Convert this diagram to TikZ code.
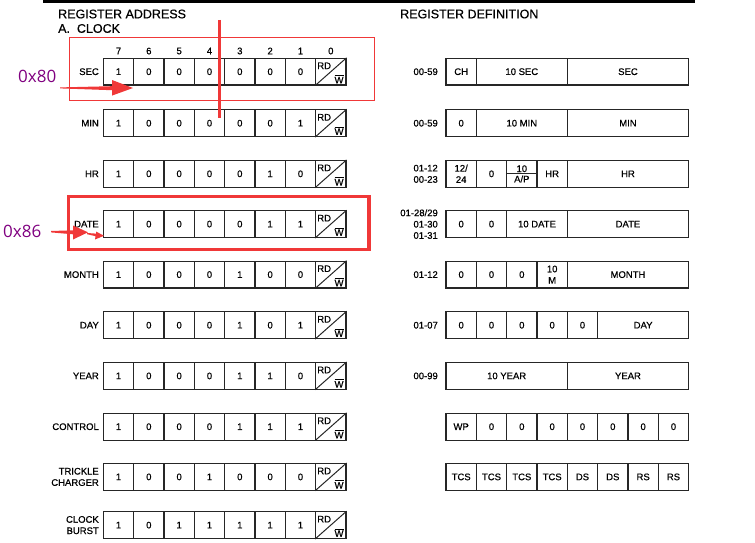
\documentclass[tikz,border=0pt]{standalone}
\usepackage{fontspec}
\setmainfont{Liberation Sans}[FakeBold=0.6]
\newfontfamily\hexfont{Open Sans}
\definecolor{annred}{RGB}{240,56,56}
\definecolor{hexpurple}{RGB}{128,0,128}

\begin{document}
\begin{tikzpicture}
  [x=1pt,y=-1pt,
   bitcell/.style={draw=black!85, line width=1.1pt, minimum width=30.33pt,
     minimum height=26.7pt, inner sep=0pt, align=center,
     font=\fontsize{9.5}{11.3}\selectfont},
   rowlabel/.style={anchor=east, align=right, inner sep=0pt,
     font=\fontsize{9.5}{11.3}\selectfont},
   bithead/.style={inner sep=0pt, font=\fontsize{9.5}{11}\selectfont},
   rdw/.style={inner sep=2pt, font=\fontsize{9.5}{10}\selectfont},
   title/.style={anchor=west, inner sep=0pt, font=\fontsize{12.5}{14}\selectfont},
   hexlabel/.style={anchor=west, inner sep=0pt, text=hexpurple,
     font=\hexfont\fontsize{17}{20}\selectfont},
   annbox/.style={draw=annred},
   pointer/.style={fill=annred}]

  \useasboundingbox (0,0) rectangle (755,543);
  \fill (43,0) rectangle (695,2.7);

  \node[title] (addr) at (58,14) {REGISTER ADDRESS};
  \node[title] (clock) at (58,28.5) {A.\ \ CLOCK};
  \node[title] (defn) at (400,14) {REGISTER DEFINITION};

  % bit numbers
  \foreach \c [evaluate=\c as \bitno using int(7-\c)] in {0,...,7}
    \node[bithead] (h\c) at ({118.5+30.33*\c},51) {\bitno};

  % register addresses
  \foreach \ty/\lab/\bits [count=\r from 0] in {
      71.7/SEC/{1,0,0,0,0,0,0},
      123.2/MIN/{1,0,0,0,0,0,1},
      173.8/HR/{1,0,0,0,0,1,0},
      224.1/DATE/{1,0,0,0,0,1,1},
      274.6/MONTH/{1,0,0,0,1,0,0},
      325.2/DAY/{1,0,0,0,1,0,1},
      375.9/YEAR/{1,0,0,0,1,1,0},
      426.7/CONTROL/{1,0,0,0,1,1,1},
      476.9/{TRICKLE\\CHARGER}/{1,0,0,1,0,0,0},
      525.1/{CLOCK\\BURST}/{1,0,1,1,1,1,1}}
  {
    \node[rowlabel] (lab\r) at (99,\ty) {\lab};
    \foreach \b [count=\c from 0] in \bits
      \node[bitcell] (a\r-\c) at ({118.5+30.33*\c},\ty) {\b};
    \node[bitcell] (a\r-7) at ({118.5+30.33*7},\ty) {};
    \draw[draw=black!85, line width=1pt] (a\r-7.south west) -- (a\r-7.north east);
    \node[rdw, anchor=north west, yshift=-2.5pt] (rd\r) at (a\r-7.north west) {RD};
    \node[rdw, anchor=south east, xshift=-0.8pt] (wr\r) at (a\r-7.south east)
      {$\overline{\mbox{\fontsize{9.5}{10}\selectfont W}}$};
  }

  % register definitions
  \foreach \ty/\rng/\fields [count=\r from 0] in {
      71.7/{00-59}/{0/1/CH,1/3/10 SEC,4/4/SEC},
      123.2/{00-59}/{0/1/0,1/3/10 MIN,4/4/MIN},
      173.8/{01-12\\00-23}/{0/1/{12/\\24},1/1/0,2/1/{},3/1/HR,4/4/HR},
      224.1/{01-28/29\\01-30\\01-31}/{0/1/0,1/1/0,2/2/10 DATE,4/4/DATE},
      274.6/{01-12}/{0/1/0,1/1/0,2/1/0,3/1/{10\\M},4/4/MONTH},
      325.2/{01-07}/{0/1/0,1/1/0,2/1/0,3/1/0,4/1/0,5/3/DAY},
      375.9/{00-99}/{0/4/10 YEAR,4/4/YEAR},
      426.7/{}/{0/1/WP,1/1/0,2/1/0,3/1/0,4/1/0,5/1/0,6/1/0,7/1/0},
      476.9/{}/{0/1/TCS,1/1/TCS,2/1/TCS,3/1/TCS,4/1/DS,5/1/DS,6/1/RS,7/1/RS}}
  {
    \node[rowlabel] (rng\r) at (438,\ty) {\rng};
    \foreach \s/\n/\t in \fields
      \node[bitcell, minimum width=\n*30.33pt] (d\r-\s)
        at ({446+30.33*(\s+\n/2)},\ty) {\t};
  }
  \draw[draw=black!85, line width=1pt] (d2-2.west) -- (d2-2.east);
  \node[bithead, anchor=south, inner sep=1.5pt] (tenhr) at (d2-2.center) {10};
  \node[bithead, anchor=north, inner sep=1.5pt] (ampm) at (d2-2.center) {A/P};

  % annotations
  \draw[annbox, line width=1pt] (69.5,38) rectangle (374,100.5);
  \draw[annred, line width=3pt] (219.5,20) -- (219.5,117.5);
  \draw[annbox, line width=3.5pt] (68.5,196.5) rectangle (369,249.5);
  \node[hexlabel] (hex80) at (18,76) {0x80};
  \node[hexlabel] (hex86) at (3,231.7) {0x86};
  \fill[pointer] (60,87.4) -- (112,86.2) -- (112,80) -- (133,88) -- (112,95.6)
    -- (112,90.2) -- (60,88.4) -- cycle;
  \fill[pointer] (51,231) -- (73,230.3) -- (73,225.5) -- (88,232.3) -- (73,239.5)
    -- (73,234.3) -- (51,232.4) -- cycle;
  \fill[pointer] (87,233) -- (96,233.6) -- (96,231.5) -- (104,235.8) -- (95,239.5)
    -- (95.5,236.2) -- (87,234.2) -- cycle;
\end{tikzpicture}
\end{document}
